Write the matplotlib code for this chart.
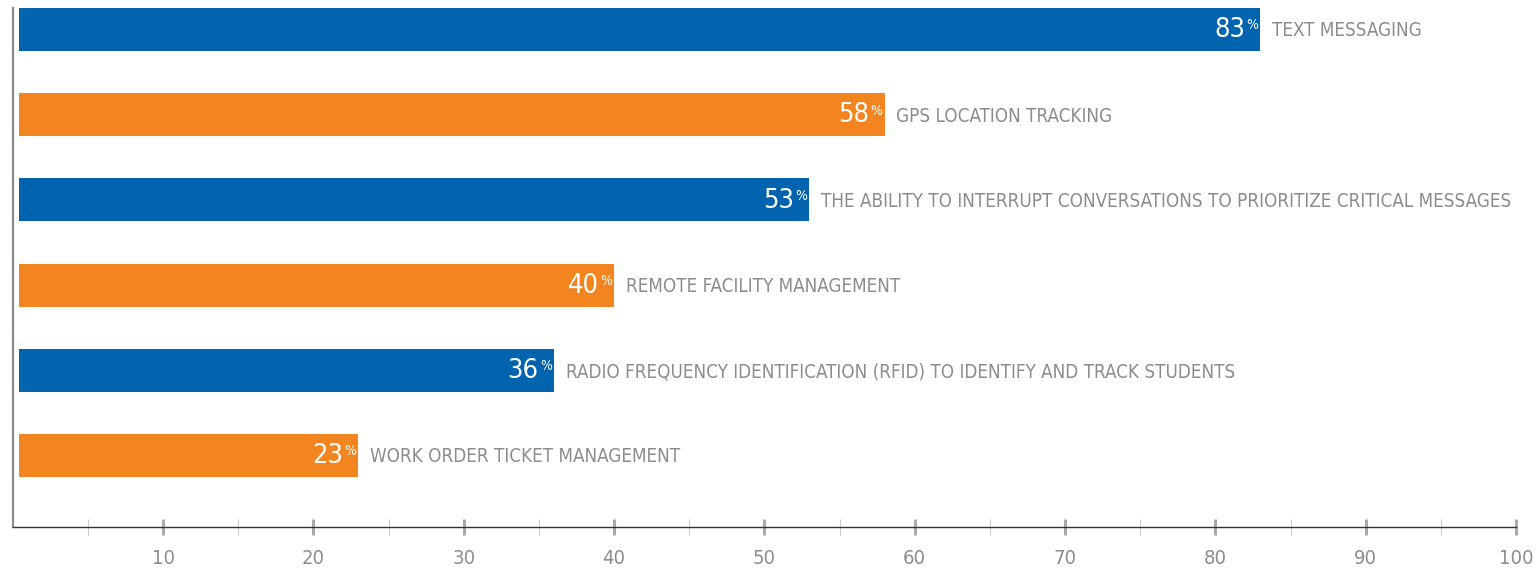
import matplotlib
matplotlib.use("Agg")
import matplotlib.pyplot as plt
from matplotlib.ticker import FixedLocator

# Data
categories = [
    "TEXT MESSAGING",
    "GPS LOCATION TRACKING",
    "THE ABILITY TO INTERRUPT CONVERSATIONS TO PRIORITIZE CRITICAL MESSAGES",
    "REMOTE FACILITY MANAGEMENT",
    "RADIO FREQUENCY IDENTIFICATION (RFID) TO IDENTIFY AND TRACK STUDENTS",
    "WORK ORDER TICKET MANAGEMENT",
]
values = [83, 58, 53, 40, 36, 23]
tick_values = [10, 20, 30, 40, 50, 60, 70, 80, 90, 100]
minor_tick_values = [5, 15, 25, 35, 45, 55, 65, 75, 85, 95]

blue = "#0263AF"
orange = "#F38521"
gray_text = "#8C8C8E"
colors = [blue if i % 2 == 0 else orange for i in range(len(values))]

plt.rcParams["font.family"] = ["DejaVu Sans"]
plt.rcParams["font.stretch"] = "condensed"

fig = plt.figure(figsize=(15.36, 5.69), dpi=100)
ax = fig.add_axes([12.7 / 1536, 42 / 569, 1503.3 / 1536, 519 / 569])

y = list(range(len(values)))
bar_start = 0.45
ax.barh(y, [v - bar_start for v in values], left=bar_start, height=0.505,
        color=colors, zorder=2)

for yi, v, cat in zip(y, values, categories):
    # number, right-aligned inside the bar
    ax.annotate(str(v), xy=(v, yi), xytext=(-11, -0.5), textcoords="offset points",
                ha="right", va="center", color="white", fontsize=19.5)
    # small percent sign
    ax.annotate("%", xy=(v, yi), xytext=(-1.5, 3), textcoords="offset points",
                ha="right", va="center", color="white", fontsize=10)
    # category label right of bar
    ax.annotate(cat, xy=(v, yi), xytext=(8.5, -1), textcoords="offset points",
                ha="left", va="center", color=gray_text, fontsize=13.5)

ax.set_xlim(0, 100)
ax.set_ylim(5.84, -0.2525)

ax.set_xticks(tick_values)
ax.set_xticklabels([str(t) for t in tick_values])
ax.xaxis.set_minor_locator(FixedLocator(minor_tick_values))
ax.tick_params(axis="x", which="major", direction="inout", length=11, width=2.2,
               color="#AAAAAE", labelsize=14.5, labelcolor=gray_text, pad=10)
ax.tick_params(axis="x", which="minor", direction="inout", length=11, width=0.8,
               color="#CCCCCC")
ax.set_yticks([])

for s in ["top", "right"]:
    ax.spines[s].set_visible(False)
ax.spines["bottom"].set_color("#333333")
ax.spines["bottom"].set_linewidth(1.0)
ax.spines["left"].set_color("#8A8A8A")
ax.spines["left"].set_linewidth(1.6)

fig.savefig("out.png", dpi=100)
